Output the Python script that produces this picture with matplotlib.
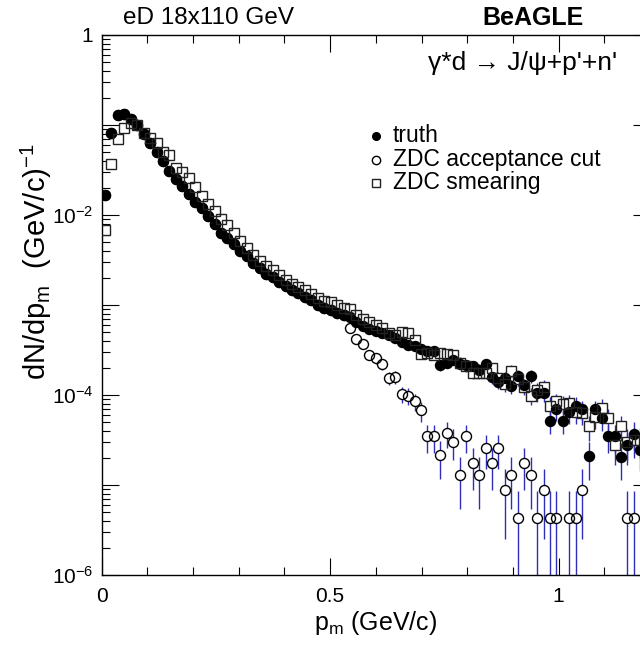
import numpy as np
import matplotlib
matplotlib.use("Agg")
import matplotlib.pyplot as plt
from matplotlib.lines import Line2D
from matplotlib.ticker import FixedLocator, FixedFormatter, NullFormatter, LogLocator, MultipleLocator

plt.rcParams['font.family'] = ['Liberation Sans', 'DejaVu Sans']
plt.rcParams['mathtext.fontset'] = 'custom'
plt.rcParams['mathtext.rm'] = 'Liberation Sans'
plt.rcParams['mathtext.it'] = 'Liberation Sans:italic'
plt.rcParams['mathtext.bf'] = 'Liberation Sans:bold'

# histogram binning: 85 bins over 0..1.2 GeV/c
n_bins = 85
p_max = 1.2
bin_width = p_max / n_bins

# log10(dN/dp_m) per bin
truth_log10 = [
    -1.78, -1.09, -0.89, -0.88, -0.93, -1.00, -1.10, -1.20, -1.30, -1.40,
    -1.51, -1.60, -1.68, -1.77, -1.86, -1.92, -2.01, -2.10, -2.20, -2.26,
    -2.32, -2.40, -2.46, -2.53, -2.59, -2.66, -2.69, -2.74, -2.79, -2.83,
    -2.87, -2.91, -2.94, -3.00, -3.03, -3.06, -3.09, -3.11, -3.13, -3.19,
    -3.23, -3.27, -3.29, -3.31, -3.33, -3.37, -3.41, -3.44, -3.46, -3.49,
    -3.51, -3.51, -3.67, -3.64, -3.61, -3.65, -3.67, -3.68, -3.72, -3.66,
    -3.80, -3.85, -3.81, -3.90, -3.79, -3.89, -3.79, -3.98, -3.98, -4.29,
    -4.16, -4.29, -4.19, -4.12, -4.16, -4.68, -4.16, -4.26, -4.46, -4.46,
    -4.69, -4.56, -4.43, -4.61,
]
truth_relerr = [0.0] * 45 + [
    0.10, 0.10, 0.11, 0.11, 0.11, 0.12, 0.12, 0.14, 0.14, 0.13,
    0.14, 0.14, 0.14, 0.15, 0.14, 0.16, 0.17, 0.17, 0.18, 0.16,
    0.18, 0.16, 0.20, 0.20, 0.29, 0.25, 0.29, 0.26, 0.24, 0.25,
    0.45, 0.25, 0.28, 0.35, 0.35, 0.45, 0.39, 0.34, 0.41,
]

# ZDC acceptance cut: identical to truth below bin 38 (hidden under it)
nan = float('nan')
cut_log10 = truth_log10[:38] + [
    -3.25, -3.38, -3.43, -3.55, -3.59, -3.66, -3.81, -3.80, -3.99, -4.01,
    -4.07, -4.17, -4.46, -4.46, -4.67, -4.42, -4.52, -4.89, -4.46, -4.76,
    -4.89, -4.59, -4.76, -4.59, -5.06, -4.89, -5.37, -4.76, -4.89, -5.37,
    -5.06, -5.37, -5.37, nan, -5.37, -5.37, -5.06, nan, nan, nan,
    nan, nan, nan, -5.37, -5.37, nan,
]
cut_relerr = [0.0] * 38 + [
    0.09, 0.10, 0.11, 0.12, 0.13, 0.14, 0.165, 0.165, 0.20, 0.21,
    0.22, 0.25, 0.35, 0.35, 0.45, 0.33, 0.38, 0.58, 0.35, 0.50,
    0.58, 0.41, 0.50, 0.41, 0.71, 0.58, 1.0, 0.50, 0.58, 1.0,
    0.71, 1.0, 1.0, 0.0, 1.0, 1.0, 0.71, 0.0, 0.0, 0.0,
    0.0, 0.0, 0.0, 1.0, 1.0, 0.0,
]

smear_log10 = [
    -2.17, -1.43, -1.15, -1.03, -0.98, -1.00, -1.09, -1.14, -1.20, -1.30,
    -1.33, -1.48, -1.52, -1.59, -1.69, -1.79, -1.88, -1.96, -2.04, -2.11,
    -2.20, -2.29, -2.37, -2.44, -2.51, -2.57, -2.61, -2.67, -2.72, -2.77,
    -2.80, -2.83, -2.88, -2.92, -2.95, -2.97, -3.00, -3.03, -3.04, -3.11,
    -3.16, -3.19, -3.22, -3.26, -3.31, -3.33, -3.30, -3.31, -3.39, -3.54,
    -3.53, -3.56, -3.53, -3.54, -3.56, -3.64, -3.68, -3.75, -3.75, -3.75,
    -3.70, -3.81, -3.88, -3.73, -3.82, -3.91, -4.01, -3.94, -3.91, -4.12,
    -4.07, -4.10, -4.09, -4.19, -4.20, -4.35, -4.24, -4.14, -4.26, -4.56,
    -4.35, -4.52, -4.50, -4.50,
]
smear_relerr = [0.0] * 45 + [
    0.095, 0.09, 0.09, 0.10, 0.12, 0.12, 0.12, 0.12, 0.12, 0.12,
    0.14, 0.14, 0.15, 0.15, 0.15, 0.15, 0.165, 0.18, 0.15, 0.17,
    0.18, 0.21, 0.19, 0.18, 0.24, 0.22, 0.23, 0.23, 0.26, 0.26,
    0.31, 0.27, 0.24, 0.28, 0.39, 0.31, 0.37, 0.37, 0.37,
]

BAR_COLOR = '#2e2eb8'

fig = plt.figure(figsize=(6.4, 6.45), dpi=100)
# right frame edge sits just outside the 640 px canvas, as in the original
ax = fig.add_axes([101.7 / 640, 70 / 645, 548.3 / 640, 540 / 645])

p_m = (np.arange(len(truth_log10)) + 0.5) * bin_width


def to_values(logv, rel):
    y = 10.0 ** np.array(logv, dtype=float)
    r = np.array(rel, dtype=float)
    hi = y * r
    lo = np.minimum(y * r, y * 0.9999)
    return y, lo, hi


y_truth, lo_t, hi_t = to_values(truth_log10, truth_relerr)
y_cut, lo_c, hi_c = to_values(cut_log10, cut_relerr)
y_smear, lo_s, hi_s = to_values(smear_log10, smear_relerr)

for y, lo, hi in [(y_cut, lo_c, hi_c), (y_truth, lo_t, hi_t), (y_smear, lo_s, hi_s)]:
    ax.errorbar(p_m, y, yerr=[lo, hi], fmt='none', ecolor=BAR_COLOR,
                elinewidth=1.0, capsize=0, zorder=1)

ms = 7.2
# white masks so the error bars stop at the open markers
ax.plot(p_m, y_cut, 'o', ms=ms, mfc='white', mec='none', zorder=2)
ax.plot(p_m, y_smear, 's', ms=ms, mfc='white', mec='none', zorder=2)
ax.plot(p_m, y_cut, 'o', ms=ms, mfc='none', mec='black', mew=1.0, zorder=3)
ax.plot(p_m, y_truth, 'o', ms=ms, color='black', zorder=4)
ax.plot(p_m, y_smear, 's', ms=ms, mfc='none', mec='#222222', mew=1.0, zorder=5)

ax.set_yscale('log')
ax.set_xlim(0, p_max)
ax.set_ylim(1e-6, 1)

ax.xaxis.set_major_locator(FixedLocator([0, 0.5, 1.0]))
ax.xaxis.set_major_formatter(FixedFormatter(['0', '0.5', '1']))
ax.xaxis.set_minor_locator(MultipleLocator(0.1))

ax.yaxis.set_major_locator(FixedLocator([1e-6, 1e-5, 1e-4, 1e-3, 1e-2, 1e-1, 1]))
ax.yaxis.set_major_formatter(FixedFormatter(
    [r'$10^{-6}$', '', r'$10^{-4}$', '', r'$10^{-2}$', '', '1']))
ax.yaxis.set_minor_locator(LogLocator(base=10, subs=np.arange(2, 10), numticks=20))
ax.yaxis.set_minor_formatter(NullFormatter())

ax.tick_params(which='both', direction='in', top=True, right=True,
               width=0.8, labelsize=15, colors='black')
ax.tick_params(which='major', length=12)
ax.tick_params(which='minor', length=6)
ax.tick_params(axis='x', which='major', pad=9)
ax.tick_params(axis='y', which='major', pad=6)
for s in ax.spines.values():
    s.set_linewidth(1.0)

ax.set_xlabel(r'p$_{\mathrm{m}}$ (GeV/c)', fontsize=18, labelpad=2)
ax.set_ylabel(r'dN/dp$_{\mathrm{m}}$  (GeV/c)$^{-1}$', fontsize=21)
ax.yaxis.set_label_coords(-0.087, 0.58)

fig.text(123 / 640, 1 - 18 / 645, 'eD 18x110 GeV', fontsize=17.5, va='center', ha='left')
fig.text(482 / 640, 1 - 18 / 645, 'BeAGLE', fontsize=18, fontweight='bold', va='center', ha='left')
fig.text(428 / 640, 1 - 63 / 645, "\u03b3*d \u2192 J/\u03c8+p'+n'", fontsize=19, va='center', ha='left')

legend_rows = [
    ('truth', dict(marker='o', ms=5.5, color='black')),
    ('ZDC acceptance cut', dict(marker='o', ms=6, mfc='white', mec='black', mew=1.0)),
    ('ZDC smearing', dict(marker='s', ms=6, mfc='white', mec='#222222', mew=1.0)),
]
for i, (label, style) in enumerate(legend_rows):
    yy = 1 - (136 + 23.5 * i) / 645
    fig.add_artist(Line2D([376 / 640], [yy], linestyle='none', transform=fig.transFigure, **style))
    fig.text(393 / 640, yy, label, fontsize=16.5, va='center', ha='left')

fig.savefig('out.png', dpi=100)
